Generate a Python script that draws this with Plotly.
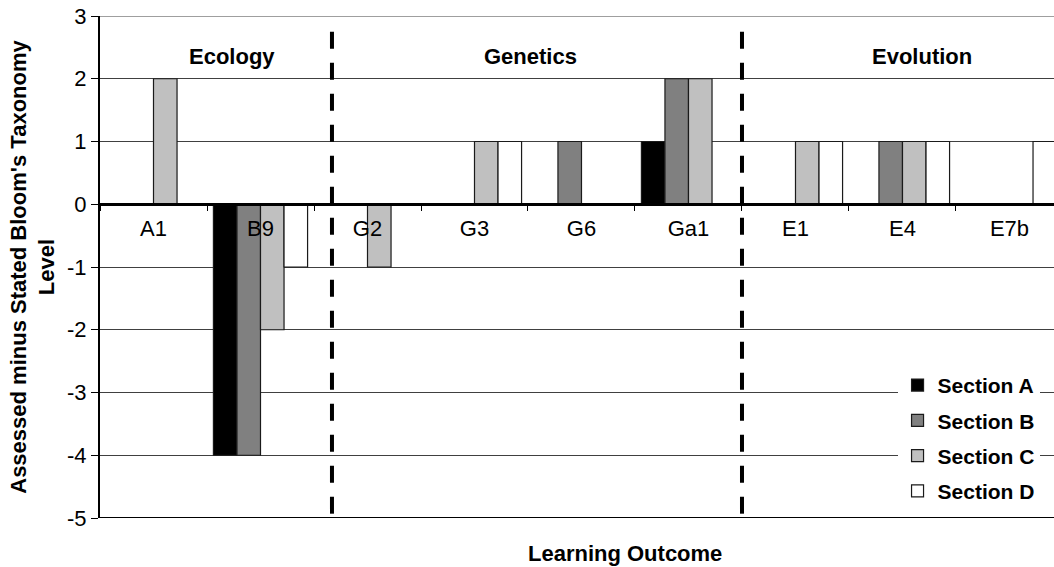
import plotly.graph_objects as go

categories = ["A1", "B9", "G2", "G3", "G6", "Ga1", "E1", "E4", "E7b"]
section_a = [0, -4, 0, 0, 0, 1, 0, 0, 0]
section_b = [0, -4, 0, 0, 1, 2, 0, 1, 0]
section_c = [2, -2, -1, 1, 0, 2, 1, 1, 0]
section_d = [0, -1, 0, 1, 0, 0, 1, 1, 1]
series_names = ["Section A", "Section B", "Section C", "Section D"]
series_colors = ["#000000", "#808080", "#C0C0C0", "#FFFFFF"]
y_ticks = [-5, -4, -3, -2, -1, 0, 1, 2, 3]
y_tick_text = ["-5", "-4", "-3", "-2", "-1", "0", "1", "2", "3"]

topic_labels = ["Ecology", "Genetics", "Evolution"]
topic_x = [0.73, 3.52, 7.18]
topic_y = 2.35
divider_x = [1.668, 5.5]

FONT = "Liberation Sans, Arial, sans-serif"

fig = go.Figure()
for name, vals, col in zip(series_names, [section_a, section_b, section_c, section_d], series_colors):
    fig.add_trace(go.Bar(
        x=categories, y=vals, name="<b>%s</b>" % name, legendgroup=name,
        marker=dict(color=col, line=dict(color="#1a1a1a", width=1.2)),
    ))

for xd in divider_x:
    fig.add_shape(type="line", xref="x", yref="y", x0=xd, x1=xd, y0=2.75, y1=-4.95,
                  line=dict(color="black", width=4, dash="17px,14px"), layer="above")

# plot border lines (top gridline, bottom frame)
fig.add_shape(type="line", xref="paper", yref="y", x0=0, x1=1, y0=3, y1=3,
              line=dict(color="#404040", width=1.2), layer="below")
fig.add_shape(type="line", xref="paper", yref="y", x0=0, x1=1, y0=-5, y1=-5,
              line=dict(color="black", width=2), layer="above")

for lab, xx in zip(topic_labels, topic_x):
    fig.add_annotation(x=xx, y=topic_y, xref="x", yref="y", text="<b>%s</b>" % lab,
                       showarrow=False, font=dict(family=FONT, size=22, color="black"))

fig.add_annotation(x=0.55, y=-0.07, xref="paper", yref="paper", text="<b>Learning Outcome</b>",
                   showarrow=False, yanchor="middle",
                   font=dict(family=FONT, size=22, color="black"))

fig.update_layout(
    width=1054, height=567,
    margin=dict(l=100, r=0, t=16, b=49, autoexpand=False),
    paper_bgcolor="white", plot_bgcolor="white",
    barmode="group", bargap=0.12, bargroupgap=0,
    font=dict(family=FONT, size=22, color="black"),
    legend=dict(x=0.836, xanchor="left", y=0.305, yanchor="top",
                bgcolor="white", borderwidth=0,
                font=dict(family=FONT, size=21, color="black"),
                tracegroupgap=5, traceorder="grouped"),
    xaxis=dict(
        type="category", range=[-0.5, 8.416],
        anchor="free", position=0.625, automargin=False,
        showline=True, linecolor="black", linewidth=2.5,
        ticks="outside", tickson="boundaries", ticklen=5, tickcolor="black", tickwidth=1,
        showgrid=False, ticklabelstandoff=4,
        tickfont=dict(family=FONT, size=22, color="black"),
    ),
    yaxis=dict(
        range=[-5, 3], tickvals=y_ticks, ticktext=y_tick_text, domain=[0, 1],
        automargin=False, ticklabeloverflow="allow",
        showline=True, linecolor="black", linewidth=2,
        ticks="outside", ticklen=7, tickcolor="black",
        showgrid=True, gridcolor="#404040", gridwidth=1.2,
        zeroline=True, zerolinecolor="black", zerolinewidth=2.5,
        tickfont=dict(family=FONT, size=22, color="black"),
        title=dict(text="<b>Assessed minus Stated Bloom's Taxonomy<br>Level</b>",
                   font=dict(family=FONT, size=22, color="black"), standoff=6),
    ),
)

fig.write_html("out.html", config={"displayModeBar": False},
               post_script="document.body.style.margin='0';")
